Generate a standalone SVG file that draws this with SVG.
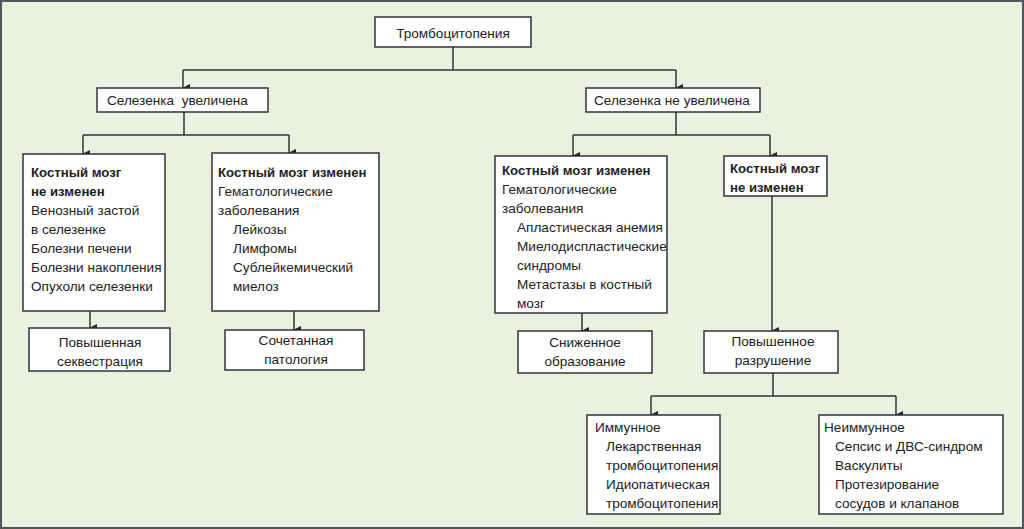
<svg xmlns="http://www.w3.org/2000/svg" width="1024" height="529" viewBox="0 0 1024 529">
<defs>
<marker id="a" markerWidth="8" markerHeight="8" refX="4" refY="7" orient="auto-start-reverse" markerUnits="userSpaceOnUse" viewBox="0 0 8 8"><path d="M0,0 L8,0 L4,8 z" fill="#222"/></marker>
<style>
.b{fill:#fff;stroke:#333;stroke-width:1.5}
text{font-family:"Liberation Sans",Arial,sans-serif;font-size:13.6px;fill:#222}
.bo{font-weight:bold;font-size:13.2px}
.c{text-anchor:middle}
#conn path{fill:none;stroke:#333;stroke-width:1.5}
</style>
</defs>
<rect x="1" y="1" width="1022" height="527" fill="#e9f2e1" stroke="#555" stroke-width="2"/>
<g id="conn">
<path d="M453,47 V70 M183,70 H676"/>
<path d="M183,70 V88" marker-end="url(#a)"/>
<path d="M676,70 V88" marker-end="url(#a)"/>
<path d="M184,112 V135 M83,135 H289"/>
<path d="M83,135 V154" marker-end="url(#a)"/>
<path d="M289,135 V153" marker-end="url(#a)"/>
<path d="M676,112 V135 M573,135 H770"/>
<path d="M573,135 V156" marker-end="url(#a)"/>
<path d="M770,135 V156" marker-end="url(#a)"/>
<path d="M90,311 V328" marker-end="url(#a)"/>
<path d="M294,311 V330" marker-end="url(#a)"/>
<path d="M582,313 V331" marker-end="url(#a)"/>
<path d="M772,196 V331" marker-end="url(#a)"/>
<path d="M773,373 V396 M651,396 H896"/>
<path d="M651,396 V415" marker-end="url(#a)"/>
<path d="M896,396 V415" marker-end="url(#a)"/>
</g>
<g id="root"><rect class="b" x="375" y="17" width="156" height="30"/><text class="c" x="453" y="38">Тромбоцитопения</text></g>
<g id="spl1"><rect class="b" x="97" y="88" width="171" height="24"/><text x="107" y="105">Селезенка&#160; увеличена</text></g>
<g id="spl2"><rect class="b" x="586" y="88" width="174" height="24"/><text x="594" y="105">Селезенка не увеличена</text></g>
<g id="boxA"><rect class="b" x="23" y="154" width="142" height="157"/>
<text x="31" y="177"><tspan class="bo">Костный мозг</tspan><tspan class="bo" x="31" dy="19">не изменен</tspan><tspan x="31" dy="19">Венозный застой</tspan><tspan x="31" dy="19">в селезенке</tspan><tspan x="31" dy="19">Болезни печени</tspan><tspan x="31" dy="19">Болезни накопления</tspan><tspan x="31" dy="19">Опухоли селезенки</tspan></text></g>
<g id="boxB"><rect class="b" x="212" y="153" width="167" height="158"/>
<text x="218" y="177"><tspan class="bo">Костный мозг изменен</tspan><tspan x="218" dy="19">Гематологические</tspan><tspan x="218" dy="19">заболевания</tspan><tspan x="233" dy="19">Лейкозы</tspan><tspan x="233" dy="19">Лимфомы</tspan><tspan x="233" dy="19">Сублейкемический</tspan><tspan x="233" dy="19">миелоз</tspan></text></g>
<g id="boxC"><rect class="b" x="495" y="156" width="172" height="157"/>
<text x="502" y="175"><tspan class="bo">Костный мозг изменен</tspan><tspan x="502" dy="19">Гематологические</tspan><tspan x="502" dy="19">заболевания</tspan><tspan x="517" dy="19">Апластическая анемия</tspan><tspan x="517" dy="19">Миелодиспластические</tspan><tspan x="517" dy="19">синдромы</tspan><tspan x="517" dy="19">Метастазы в костный</tspan><tspan x="517" dy="19">мозг</tspan></text></g>
<g id="boxD"><rect class="b" x="724" y="156" width="103" height="40"/>
<text x="730" y="173"><tspan class="bo">Костный мозг</tspan><tspan class="bo" x="730" dy="19">не изменен</tspan></text></g>
<g id="seq"><rect class="b" x="29" y="328" width="141" height="43"/><text class="c" x="100" y="347">Повышенная<tspan x="100" dy="19">секвестрация</tspan></text></g>
<g id="comb"><rect class="b" x="225" y="330" width="139" height="40"/><text class="c" x="296" y="345">Сочетанная<tspan x="296" dy="19">патология</tspan></text></g>
<g id="low"><rect class="b" x="518" y="331" width="134" height="42"/><text class="c" x="585" y="347">Сниженное<tspan x="585" dy="19">образование</tspan></text></g>
<g id="destr"><rect class="b" x="704" y="331" width="134" height="42"/><text class="c" x="773" y="346">Повышенное<tspan x="773" dy="19">разрушение</tspan></text></g>
<g id="imm"><rect class="b" x="587" y="415" width="133" height="99"/>
<text x="595" y="432">Иммунное<tspan x="606" dy="19">Лекарственная</tspan><tspan x="606" dy="19">тромбоцитопения</tspan><tspan x="606" dy="19">Идиопатическая</tspan><tspan x="606" dy="19">тромбоцитопения</tspan></text></g>
<g id="nonimm"><rect class="b" x="819" y="415" width="184" height="99"/>
<text x="824" y="432">Неиммунное<tspan x="835" dy="19">Сепсис и ДВС-синдром</tspan><tspan x="835" dy="19">Васкулиты</tspan><tspan x="835" dy="19">Протезирование</tspan><tspan x="835" dy="19">сосудов и клапанов</tspan></text></g>
</svg>
